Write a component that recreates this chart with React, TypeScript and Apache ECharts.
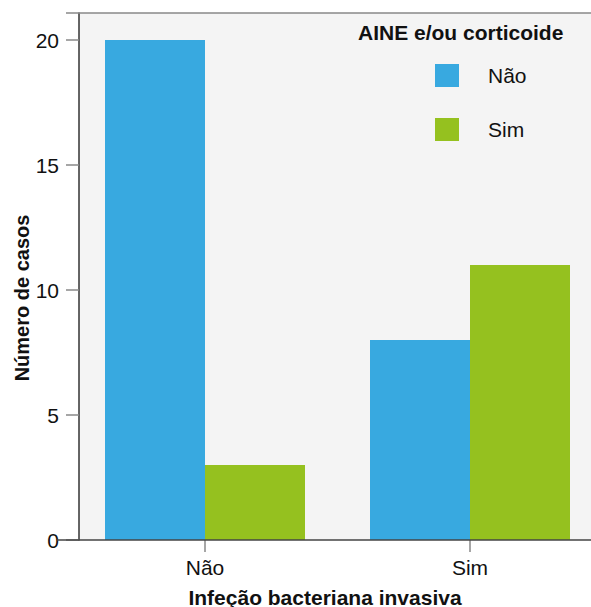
import React, { useEffect, useRef } from "react";
import * as echarts from "echarts";

const categories = ["Não", "Sim"];
const seriesNames = ["Não", "Sim"];
const valuesNao = [20, 8];
const valuesSim = [3, 11];
const yTicks = [0, 5, 10, 15, 20];
const colors = ["#38A9E0", "#95C11F"];
const FONT = "'Liberation Sans', Arial, sans-serif";
const CHART_W = 640;

export default function App() {
  const ref = useRef<HTMLDivElement>(null);
  useEffect(() => {
    document.body.style.margin = "0";
    const chart = echarts.init(ref.current!, null, { renderer: "svg" });
    const option: any = {
      animation: false,
      textStyle: { fontFamily: FONT },
      grid: { left: 72.5, right: CHART_W - 602.5, top: 13, bottom: 67, containLabel: false },
      xAxis: {
        type: "category",
        data: categories,
        axisLine: { show: false },
        axisTick: { show: true, alignWithLabel: true, length: 12, lineStyle: { color: "#888", width: 1.5 } },
        axisLabel: { color: "#111", fontSize: 21, margin: 17, fontFamily: FONT },
        splitLine: { show: false },
      },
      yAxis: {
        type: "value",
        min: 0,
        max: 21.08,
        interval: 5,
        offset: -6.5,
        axisLine: { show: true, lineStyle: { color: "#333", width: 1.5 } },
        axisTick: { show: true, length: 13, lineStyle: { color: "#888", width: 1.5 } },
        axisLabel: {
          color: "#111",
          fontSize: 21,
          margin: 20,
          fontFamily: FONT,
          formatter: (v: number) => (yTicks.includes(v) ? String(v) : ""),
        },
        splitLine: { show: false },
      },
      legend: {
        orient: "vertical",
        left: 435,
        top: 64,
        padding: 0,
        itemWidth: 24,
        itemHeight: 23,
        itemGap: 31,
        icon: "rect",
        data: seriesNames,
        textStyle: { fontSize: 21, color: "#111", padding: [0, 0, 0, 24], fontFamily: FONT },
      },
      graphic: [
        {
          type: "rect",
          z: -10,
          silent: true,
          shape: { x: 79, y: 13, width: 600, height: 527 },
          style: { fill: "#F4F4F4" },
        },
        {
          type: "line",
          z: 10,
          silent: true,
          shape: { x1: 79, y1: 13, x2: 640, y2: 13 },
          style: { stroke: "#888", lineWidth: 1.5 },
        },
        {
          type: "line",
          z: 10,
          silent: true,
          shape: { x1: 57, y1: 540, x2: 640, y2: 540 },
          style: { stroke: "#444", lineWidth: 1.5 },
        },
        {
          type: "text",
          z: 10,
          x: 358,
          y: 32,
          style: {
            text: "AINE e/ou corticoide",
            fontSize: 21,
            fontWeight: "bold",
            fill: "#111",
            fontFamily: FONT,
            textVerticalAlign: "middle",
          },
        },
        {
          type: "text",
          z: 10,
          x: 325,
          y: 597,
          style: {
            text: "Infeção bacteriana invasiva",
            fontSize: 21,
            fontWeight: "bold",
            fill: "#111",
            fontFamily: FONT,
            textAlign: "center",
            textVerticalAlign: "middle",
          },
        },
        {
          type: "text",
          z: 10,
          x: 22,
          y: 298,
          rotation: Math.PI / 2,
          style: {
            text: "Número de casos",
            fontSize: 20,
            fontWeight: "bold",
            fill: "#111",
            fontFamily: FONT,
            textAlign: "center",
            textVerticalAlign: "middle",
          },
        },
      ],
      series: [
        {
          name: seriesNames[0],
          type: "bar",
          data: valuesNao,
          barWidth: 100,
          barGap: "0%",
          itemStyle: { color: colors[0] },
        },
        {
          name: seriesNames[1],
          type: "bar",
          data: valuesSim,
          barWidth: 100,
          barGap: "0%",
          itemStyle: { color: colors[1] },
        },
      ],
    };
    chart.setOption(option);
    return () => chart.dispose();
  }, []);
  return (
    <div style={{ position: "absolute", left: 0, top: 0, width: 591, height: 607, overflow: "hidden" }}>
      <div ref={ref} style={{ width: CHART_W, height: 607 }} />
    </div>
  );
}
